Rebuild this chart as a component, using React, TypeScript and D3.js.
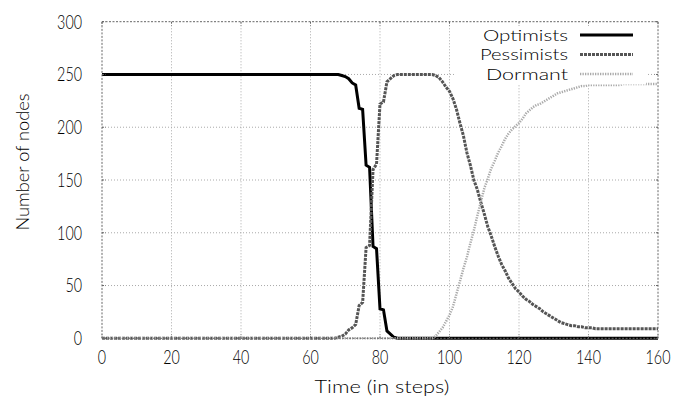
import { useEffect, useRef } from "react";
import * as d3 from "d3";

// node counts per time step, t = 0..160
const optimists = [
  250, 250, 250, 250, 250, 250, 250, 250, 250, 250,
  250, 250, 250, 250, 250, 250, 250, 250, 250, 250,
  250, 250, 250, 250, 250, 250, 250, 250, 250, 250,
  250, 250, 250, 250, 250, 250, 250, 250, 250, 250,
  250, 250, 250, 250, 250, 250, 250, 250, 250, 250,
  250, 250, 250, 250, 250, 250, 250, 250, 250, 250,
  250, 250, 250, 250, 250, 250, 250, 250, 250, 249,
  248, 246, 242, 240, 218, 217, 164, 162, 87, 85,
  28, 27, 7, 4, 1, 0, 0, 0, 0, 0,
  0, 0, 0, 0, 0, 0, 0, 0, 0, 0,
  0, 0, 0, 0, 0, 0, 0, 0, 0, 0,
  0, 0, 0, 0, 0, 0, 0, 0, 0, 0,
  0, 0, 0, 0, 0, 0, 0, 0, 0, 0,
  0, 0, 0, 0, 0, 0, 0, 0, 0, 0,
  0, 0, 0, 0, 0, 0, 0, 0, 0, 0,
  0, 0, 0, 0, 0, 0, 0, 0, 0, 0,
  0,
];

const pessimists = [
  0, 0, 0, 0, 0, 0, 0, 0, 0, 0,
  0, 0, 0, 0, 0, 0, 0, 0, 0, 0,
  0, 0, 0, 0, 0, 0, 0, 0, 0, 0,
  0, 0, 0, 0, 0, 0, 0, 0, 0, 0,
  0, 0, 0, 0, 0, 0, 0, 0, 0, 0,
  0, 0, 0, 0, 0, 0, 0, 0, 0, 0,
  0, 0, 0, 0, 0, 0, 0, 0, 1, 2,
  4, 8, 10, 13, 31, 34, 86, 88, 160, 165,
  222, 224, 243, 246, 249, 250, 250, 250, 250, 250,
  250, 250, 250, 250, 250, 250, 249, 247, 243, 238,
  234, 227, 217, 204, 192, 176, 164, 150, 141, 129,
  118, 106, 97, 87, 78, 70, 64, 57, 52, 47,
  44, 40, 37, 35, 32, 30, 28, 25, 23, 21,
  19, 17, 15, 14, 13, 12, 12, 11, 11, 10,
  10, 10, 9, 9, 9, 9, 9, 9, 9, 9,
  9, 9, 9, 9, 9, 9, 9, 9, 9, 9,
  9,
];

const dormant = [
  0, 0, 0, 0, 0, 0, 0, 0, 0, 0,
  0, 0, 0, 0, 0, 0, 0, 0, 0, 0,
  0, 0, 0, 0, 0, 0, 0, 0, 0, 0,
  0, 0, 0, 0, 0, 0, 0, 0, 0, 0,
  0, 0, 0, 0, 0, 0, 0, 0, 0, 0,
  0, 0, 0, 0, 0, 0, 0, 0, 0, 0,
  0, 0, 0, 0, 0, 0, 0, 0, 0, 0,
  0, 0, 0, 0, 0, 0, 0, 0, 0, 0,
  0, 0, 0, 0, 0, 0, 0, 0, 0, 0,
  0, 0, 0, 0, 0, 0, 2, 6, 10, 16,
  22, 30, 42, 54, 66, 77, 90, 102, 116, 129,
  142, 151, 161, 168, 176, 182, 189, 194, 198, 201,
  204, 208, 213, 216, 219, 221, 222, 224, 226, 228,
  230, 232, 233, 234, 235, 236, 237, 238, 239, 239,
  240, 240, 240, 240, 240, 240, 240, 240, 240, 240,
  241, 241, 241, 241, 241, 241, 241, 241, 241, 241,
  241,
];

const xTicks = [0, 20, 40, 60, 80, 100, 120, 140, 160];
const yTicks = [0, 50, 100, 150, 200, 250, 300];

const seriesNames = ["Optimists", "Pessimists", "Dormant"];

export default function App() {
  const svgRef = useRef<SVGSVGElement>(null);

  useEffect(() => {
    const width = 678;
    const height = 398;
    const font = "Lato, 'DejaVu Sans', sans-serif";

    const svg = d3.select(svgRef.current);
    svg.selectAll("*").remove();

    const x = d3.scaleLinear().domain([0, 160]).range([102, 658]);
    const y = d3.scaleLinear().domain([0, 300]).range([338.3, 21.7]);

    svg.append("rect").attr("width", width).attr("height", height).attr("fill", "#fff");

    // grid
    const grid = svg.append("g").attr("stroke", "#aaa").attr("stroke-width", 1).attr("stroke-dasharray", "1,2");
    grid.selectAll("line.gx")
      .data(xTicks.slice(1, -1))
      .join("line")
      .attr("x1", d => x(d)).attr("x2", d => x(d))
      .attr("y1", y(0)).attr("y2", y(300));
    grid.selectAll("line.gy")
      .data(yTicks.slice(1, -1))
      .join("line")
      .attr("class", "gy")
      .attr("x1", x(0)).attr("x2", x(160))
      .attr("y1", d => y(d)).attr("y2", d => y(d));

    const styles = [
      { data: optimists, color: "#000", width: 3, dash: null },
      { data: pessimists, color: "#555", width: 3, dash: "3,1" },
      { data: dormant, color: "#aaa", width: 2.5, dash: "1.3,1.2" },
    ];

    const line = d3.line<number>()
      .x((_, i) => x(i))
      .y(d => y(d));

    styles.forEach(s => {
      svg.append("path")
        .datum(s.data)
        .attr("fill", "none")
        .attr("stroke", s.color)
        .attr("stroke-width", s.width)
        .attr("stroke-dasharray", s.dash)
        .attr("d", line);
    });

    // opaque key
    svg.append("rect")
      .attr("x", 456).attr("y", 22.5)
      .attr("width", 190).attr("height", 62)
      .attr("fill", "#fff");

    const keyWidths = [85, 88, 82];
    const key = svg.append("g");
    seriesNames.forEach((name, i) => {
      const cy = 35 + i * 19.5;
      key.append("text")
        .attr("x", 568).attr("y", cy)
        .attr("dy", "0.36em")
        .attr("text-anchor", "end")
        .attr("font-family", font)
        .attr("font-weight", 300)
        .attr("font-size", 16.5)
        .attr("textLength", keyWidths[i])
        .attr("lengthAdjust", "spacingAndGlyphs")
        .attr("fill", "#000")
        .text(name);
      key.append("line")
        .attr("x1", 580).attr("x2", 633)
        .attr("y1", cy).attr("y2", cy)
        .attr("stroke", styles[i].color)
        .attr("stroke-width", styles[i].width)
        .attr("stroke-dasharray", styles[i].dash);
    });

    // border and ticks
    const border = svg.append("g").attr("stroke", "#666").attr("stroke-width", 1).attr("stroke-dasharray", "2,1.5").attr("fill", "none");
    border.append("rect")
      .attr("x", x(0)).attr("y", y(300))
      .attr("width", x(160) - x(0)).attr("height", y(0) - y(300));
    xTicks.forEach(t => {
      border.append("line").attr("x1", x(t)).attr("x2", x(t)).attr("y1", y(0)).attr("y2", y(0) - 4);
      border.append("line").attr("x1", x(t)).attr("x2", x(t)).attr("y1", y(300)).attr("y2", y(300) + 4);
    });
    yTicks.forEach(t => {
      border.append("line").attr("x1", x(0)).attr("x2", x(0) + 4).attr("y1", y(t)).attr("y2", y(t));
      border.append("line").attr("x1", x(160)).attr("x2", x(160) - 4).attr("y1", y(t)).attr("y2", y(t));
    });

    // tick labels
    svg.append("g").selectAll("text")
      .data(yTicks)
      .join("text")
      .attr("x", 82).attr("y", d => y(d))
      .attr("dy", "0.36em")
      .attr("text-anchor", "end")
      .attr("font-family", font)
      .attr("font-weight", 300)
      .attr("font-size", 19)
      .attr("textLength", d => String(d).length * 8.3)
      .attr("lengthAdjust", "spacingAndGlyphs")
      .attr("fill", "#000")
      .text(d => d);

    svg.append("g").selectAll("text")
      .data(xTicks)
      .join("text")
      .attr("x", d => x(d)).attr("y", 357)
      .attr("dy", "0.36em")
      .attr("text-anchor", "middle")
      .attr("font-family", font)
      .attr("font-weight", 300)
      .attr("font-size", 19)
      .attr("textLength", d => String(d).length * 8.3)
      .attr("lengthAdjust", "spacingAndGlyphs")
      .attr("fill", "#000")
      .text(d => d);

    svg.append("text")
      .attr("x", 382).attr("y", 387)
      .attr("dy", "0.36em")
      .attr("text-anchor", "middle")
      .attr("font-family", font)
      .attr("font-weight", 300)
      .attr("font-size", 17)
      .attr("textLength", 135)
      .attr("lengthAdjust", "spacingAndGlyphs")
      .attr("fill", "#000")
      .text("Time (in steps)");

    svg.append("text")
      .attr("transform", "translate(23,162) rotate(-90)")
      .attr("dy", "0.36em")
      .attr("text-anchor", "middle")
      .attr("font-family", font)
      .attr("font-weight", 300)
      .attr("font-size", 17)
      .attr("textLength", 137)
      .attr("lengthAdjust", "spacingAndGlyphs")
      .attr("fill", "#000")
      .text("Number of nodes");
  }, []);

  return (
    <svg
      ref={svgRef}
      width={678}
      height={398}
      style={{ position: "absolute", left: 0, top: 0 }}
    />
  );
}
